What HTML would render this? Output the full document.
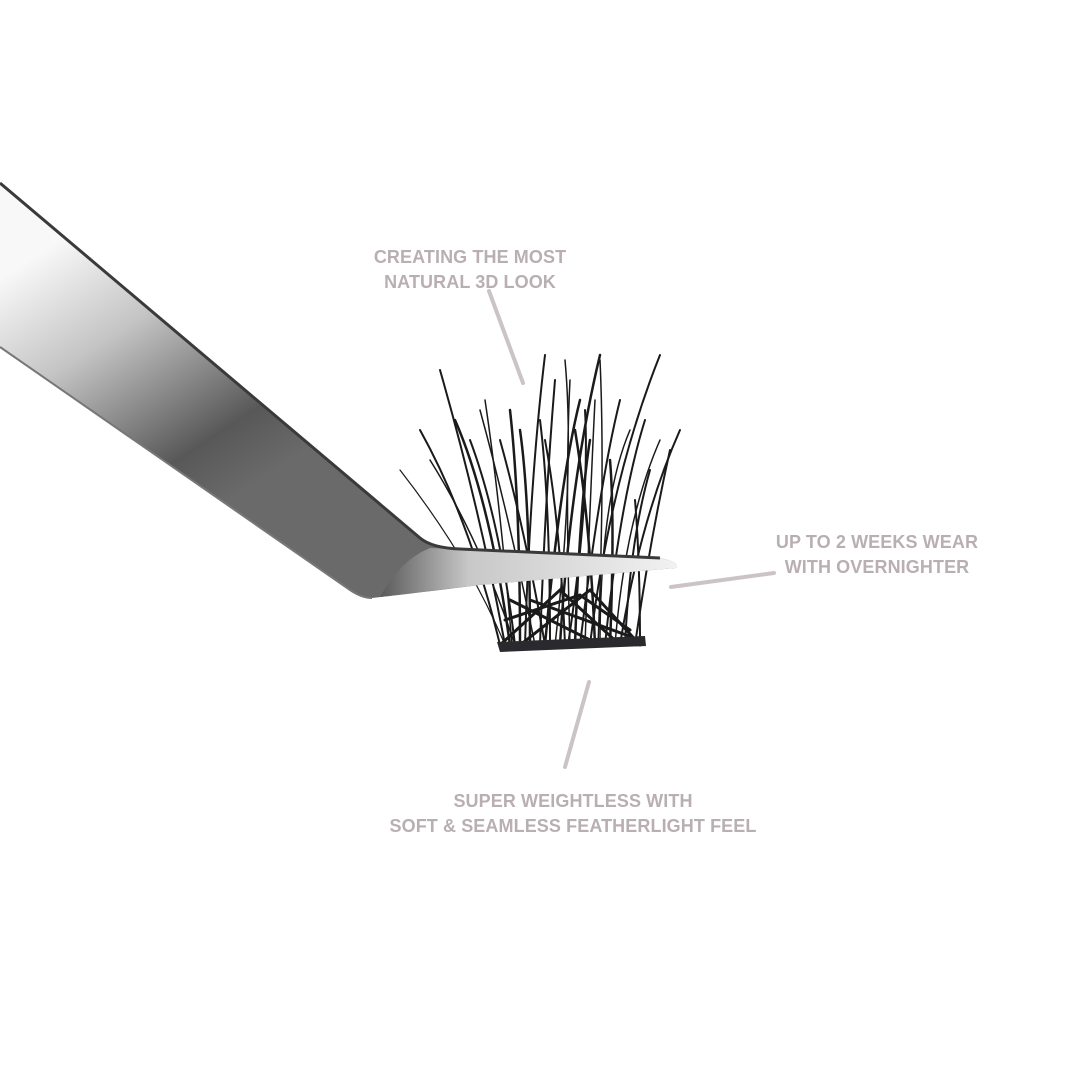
<!DOCTYPE html>
<html><head><meta charset="utf-8"><style>
html,body{margin:0;padding:0;background:#fff;}
.t{position:absolute;font-family:"Liberation Sans",sans-serif;font-weight:bold;color:#b9afb2;font-size:18px;text-align:center;line-height:25px;letter-spacing:0.1px}
</style></head><body>
<div style="position:relative;width:1080px;height:1080px;overflow:hidden;background:#fff">
<svg width="1080" height="1080" style="position:absolute;left:0;top:0">
<defs>
<linearGradient id="g" gradientUnits="userSpaceOnUse" x1="60" y1="240" x2="230" y2="500">
<stop offset="0" stop-color="#f8f8f8"/><stop offset="0.35" stop-color="#c4c4c4"/><stop offset="0.8" stop-color="#585858"/><stop offset="1" stop-color="#6a6a6a"/>
</linearGradient>
<linearGradient id="g2" x1="0" y1="0" x2="1" y2="0">
<stop offset="0" stop-color="#5a5a5a"/><stop offset="0.3" stop-color="#c8c8c8"/><stop offset="1" stop-color="#f2f2f2"/>
</linearGradient>
</defs>
<g stroke="#1a1a1a" fill="none" stroke-linecap="round">
<path d="M500 645 Q470 520 420 430" stroke-width="2"/>
<path d="M505 645 Q480 510 440 370" stroke-width="2"/>
<path d="M510 645 Q490 500 455 420" stroke-width="2.5"/>
<path d="M515 645 Q500 520 470 440" stroke-width="2"/>
<path d="M520 645 Q520 500 510 410" stroke-width="2.5"/>
<path d="M525 645 Q530 480 545 355" stroke-width="2"/>
<path d="M530 645 Q530 500 520 430" stroke-width="2.5"/>
<path d="M540 645 Q545 500 555 380" stroke-width="2"/>
<path d="M545 645 Q560 480 580 400" stroke-width="2.5"/>
<path d="M550 645 Q550 500 540 420" stroke-width="2"/>
<path d="M560 645 Q570 480 600 355" stroke-width="2.5"/>
<path d="M565 645 Q560 520 545 440" stroke-width="2"/>
<path d="M575 645 Q580 500 590 440" stroke-width="2.5"/>
<path d="M580 645 Q600 480 620 400" stroke-width="2"/>
<path d="M590 645 Q610 480 660 355" stroke-width="2"/>
<path d="M595 645 Q590 520 575 430" stroke-width="2.5"/>
<path d="M605 645 Q620 500 645 420" stroke-width="2"/>
<path d="M610 645 Q615 520 610 460" stroke-width="2.5"/>
<path d="M620 645 Q640 520 680 430" stroke-width="2"/>
<path d="M625 645 Q630 540 650 470" stroke-width="2"/>
<path d="M635 645 Q650 540 670 450" stroke-width="2"/>
<path d="M640 645 Q640 560 635 500" stroke-width="2"/>
<path d="M505 645 Q470 560 400 470" stroke-width="1.2"/>
<path d="M515 645 Q480 540 430 460" stroke-width="1.5"/>
<path d="M535 645 Q510 520 480 410" stroke-width="1.5"/>
<path d="M570 645 Q565 480 570 380" stroke-width="1.5"/>
<path d="M585 645 Q590 500 595 400" stroke-width="1.5"/>
<path d="M600 645 Q600 500 630 430" stroke-width="1.5"/>
<path d="M512 645 Q500 500 485 400" stroke-width="1.5"/>
<path d="M555 645 Q575 470 565 360" stroke-width="1.5"/>
<path d="M568 645 Q590 500 585 410" stroke-width="2"/>
<path d="M598 645 Q605 470 600 360" stroke-width="1.5"/>
<path d="M615 645 Q625 520 660 440" stroke-width="1.5"/>
<path d="M545 645 Q525 530 500 440" stroke-width="2"/>
<path d="M500 645 L560 590 L620 645 M520 645 L590 590 L640 645 M510 600 L600 645 M530 600 L640 640 M505 620 L580 595 L630 630" stroke-width="3"/>
</g>
<path d="M497 642 L645 636 L646 646 L500 652 Z" fill="#2a2a2e"/>
<path d="M0 183 L420 538 Q432 548 460 549 L660 558 Q680 562 676 568 L480 585 Q400 595 372 598 Q362 598 350 590 L0 347 Z" fill="url(#g)"/>
<path d="M430 548 L660 558 Q680 562 676 568 L480 585 L380 597 Q400 560 430 548 Z" fill="url(#g2)"/>
<path d="M0 183 L420 538 Q432 548 460 549 L660 558" stroke="#3a3a3a" stroke-width="3" fill="none"/>
<path d="M0 347 L350 590 Q362 598 372 598" stroke="#777" stroke-width="2" fill="none"/>
<g stroke="#cbc3c5" stroke-width="4" stroke-linecap="round">
<line x1="489" y1="291" x2="523" y2="383"/>
<line x1="671" y1="587" x2="774" y2="573"/>
<line x1="589" y1="682" x2="565" y2="767"/>
</g>
</svg>
<div class="t" style="left:320px;top:245px;width:300px">CREATING THE MOST<br>NATURAL 3D LOOK</div>
<div class="t" style="left:722px;top:530px;width:310px">UP TO 2 WEEKS WEAR<br>WITH OVERNIGHTER</div>
<div class="t" style="left:373px;top:789px;width:400px">SUPER WEIGHTLESS WITH<br>SOFT &amp; SEAMLESS FEATHERLIGHT FEEL</div>
</div>
</body></html>
